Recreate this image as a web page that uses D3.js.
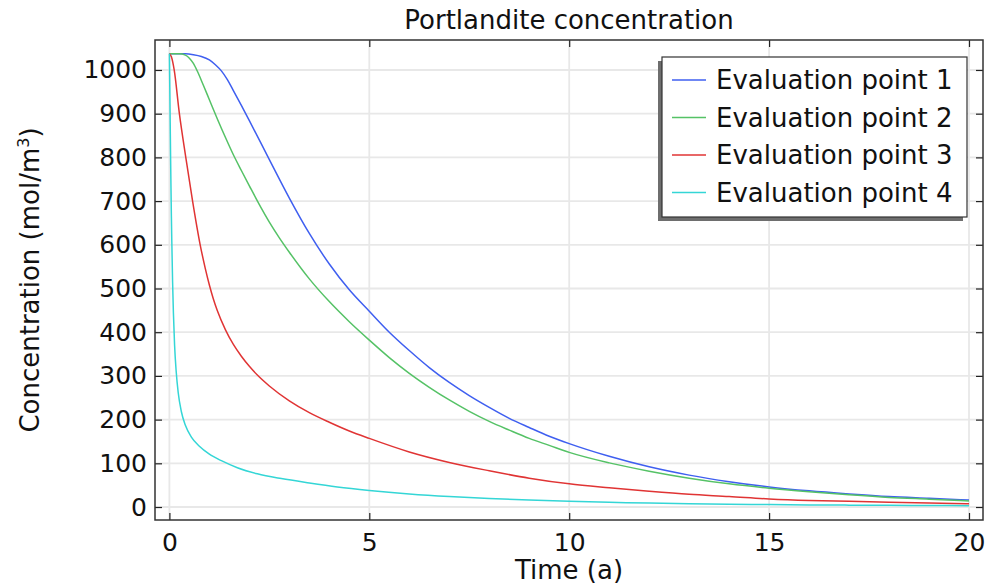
<!DOCTYPE html>
<html>
<head>
<meta charset="utf-8">
<script src="https://cdn.jsdelivr.net/npm/d3@7"></script>
<style>
  body { margin: 0; background: #fff; }
  text { font-family: "DejaVu Sans", sans-serif; fill: #111; }
</style>
</head>
<body>
<div id="main"></div>
<script>
// values (time in years, concentration in mol/m3)
const t1 = [0, 0.4, 0.6, 0.8, 1.0, 1.15, 1.3, 1.45, 1.6, 1.8, 2.0, 2.5, 3.0, 3.5, 4.0, 4.5, 5, 5.5, 6, 6.5, 7, 7.5, 8, 8.5, 9, 9.5, 10, 11, 12, 13, 14, 15, 16, 17, 18, 19, 20];
const v1 = [1037, 1037, 1035, 1031, 1023, 1012, 998, 978, 953, 919, 884, 795, 707, 626, 556, 497, 448, 400, 358, 319, 285, 255, 228, 203, 182, 162, 145, 116, 92, 73, 58, 46, 37, 30, 24, 20, 16];

const t2 = [0, 0.25, 0.4, 0.5, 0.6, 0.7, 0.85, 1.0, 1.2, 1.4, 1.6, 1.8, 2.0, 2.25, 2.5, 2.75, 3.0, 3.5, 4.0, 4.5, 5, 5.5, 6, 6.5, 7, 7.5, 8, 8.5, 9, 9.5, 10, 11, 12, 13, 14, 15, 16, 17, 18, 19, 20];
const v2 = [1037, 1037, 1034, 1027, 1015, 997, 965, 932, 888, 846, 806, 770, 735, 692, 652, 616, 583, 522, 470, 424, 382, 342, 306, 274, 245, 219, 196, 176, 157, 141, 125, 101, 82, 66, 53, 43, 35, 28, 22, 18, 14];

const t3 = [0, 0.05, 0.12, 0.25, 0.41, 0.58, 0.77, 0.9, 1.0, 1.1, 1.2, 1.4, 1.6, 1.8, 2.0, 2.2, 2.5, 3.0, 3.5, 4.0, 4.5, 5, 6, 7, 8, 9, 10, 11, 12, 13, 14, 15, 16, 17, 18, 19, 20];
const v3 = [1037, 1030, 1000, 900, 800, 700, 600, 545, 508, 476, 449, 406, 372, 345, 322, 302, 277, 243, 216, 194, 174, 157, 126, 102, 83, 66, 53, 44, 36, 29, 24, 18.5, 15, 13, 11, 9, 7.5];

const t4 = [0, 0.01, 0.02, 0.03, 0.04, 0.05, 0.06, 0.08, 0.1, 0.13, 0.17, 0.22, 0.3, 0.4, 0.55, 0.75, 1.0, 1.3, 1.7, 2.2, 2.8, 3.5, 4.2, 5, 6, 7, 8, 9, 10, 11, 12, 13, 14, 15, 16, 17, 18, 19, 20];
const v4 = [1037, 960, 880, 800, 730, 665, 610, 515, 445, 370, 310, 262, 218, 187, 160, 139, 121, 106, 90, 76, 65, 55, 46, 38, 30, 24, 19.5, 16, 13, 10.8, 9, 7.6, 6.5, 5.6, 4.9, 4.3, 3.8, 3.4, 3];

const seriesNames = ["Evaluation point 1", "Evaluation point 2", "Evaluation point 3", "Evaluation point 4"];
const seriesColors = ["#3f5ff0", "#55c266", "#e03434", "#34d6d6"];
const xTicks = [0, 5, 10, 15, 20];
const yTicks = [0, 100, 200, 300, 400, 500, 600, 700, 800, 900, 1000];

const W = 992, H = 588;
const margin = {left: 155, right: 9, top: 40, bottom: 68};
const pw = W - margin.left - margin.right;
const ph = H - margin.top - margin.bottom;

const svg = d3.select("#main").append("svg")
    .attr("width", W)
    .attr("height", H);

const x = d3.scaleLinear().domain([-0.36, 20.35]).range([0, pw]);
const y = d3.scaleLinear().domain([-29.7, 1068.6]).range([ph, 0]);

const g = svg.append("g").attr("transform", `translate(${margin.left},${margin.top})`);

// grid
g.append("g").selectAll("line").data(xTicks).enter().append("line")
    .attr("x1", d => x(d)).attr("x2", d => x(d))
    .attr("y1", 0).attr("y2", ph)
    .attr("stroke", "#e8e8e8").attr("stroke-width", 1.8);
g.append("g").selectAll("line").data(yTicks).enter().append("line")
    .attr("x1", 0).attr("x2", pw)
    .attr("y1", d => y(d)).attr("y2", d => y(d))
    .attr("stroke", "#e8e8e8").attr("stroke-width", 1.8);

// curves
g.append("clipPath").attr("id", "clip")
    .append("rect").attr("width", pw).attr("height", ph);

const line = d3.line()
    .x(d => x(d[0]))
    .y(d => y(d[1]))
    .curve(d3.curveMonotoneX);

const series = [[t1, v1], [t2, v2], [t3, v3], [t4, v4]].map(s => s[0].map((t, i) => [t, s[1][i]]));

g.append("g").attr("clip-path", "url(#clip)")
    .selectAll("path").data(series).enter().append("path")
    .attr("d", line)
    .attr("fill", "none")
    .attr("stroke", (d, i) => seriesColors[i])
    .attr("stroke-width", 1.5);

// axes, ticks pointing inward on all four sides
g.append("g").attr("transform", `translate(0,${ph})`)
    .call(d3.axisBottom(x).tickValues(xTicks).tickSize(-7).tickPadding(13));
g.append("g")
    .call(d3.axisLeft(y).tickValues(yTicks).tickSize(-7).tickPadding(8).tickFormat(d3.format("d")));
g.append("g")
    .call(d3.axisTop(x).tickValues(xTicks).tickSize(-7).tickFormat(""));
g.append("g").attr("transform", `translate(${pw},0)`)
    .call(d3.axisRight(y).tickValues(yTicks).tickSize(-7).tickFormat(""));

g.selectAll(".domain").remove();
g.selectAll(".tick line").attr("stroke", "#222").attr("stroke-width", 1.2);
g.selectAll(".tick text").style("font-size", "25px").style("font-family", "DejaVu Sans").attr("fill", "#111");

g.append("rect")
    .attr("width", pw).attr("height", ph)
    .attr("fill", "none").attr("stroke", "#333").attr("stroke-width", 1.5);

// title and labels
svg.append("text")
    .attr("x", margin.left + pw / 2).attr("y", 29)
    .attr("text-anchor", "middle")
    .style("font-size", "26px")
    .text("Portlandite concentration");

svg.append("text")
    .attr("x", margin.left + pw / 2).attr("y", 579)
    .attr("text-anchor", "middle")
    .style("font-size", "26px")
    .text("Time (a)");

const yl = svg.append("text")
    .attr("transform", `translate(39,${margin.top + ph / 2}) rotate(-90)`)
    .attr("text-anchor", "middle")
    .style("font-size", "26px");
yl.append("tspan").text("Concentration (mol/m");
yl.append("tspan").attr("dy", -10).style("font-size", "16px").text("3");
yl.append("tspan").attr("dy", 10).text(")");

// legend
const lg = svg.append("g").attr("transform", "translate(662,57)");
lg.append("rect")
    .attr("x", -4).attr("y", 4).attr("width", 305).attr("height", 160)
    .attr("fill", "#6e6e6e");
lg.append("rect")
    .attr("width", 305).attr("height", 160)
    .attr("fill", "#fff").attr("stroke", "#333").attr("stroke-width", 1.2);

const rows = lg.selectAll(".row").data(seriesNames).enter().append("g")
    .attr("transform", (d, i) => `translate(0,${23 + i * 37.5})`);
rows.append("line")
    .attr("x1", 10).attr("x2", 44)
    .attr("stroke", (d, i) => seriesColors[i]).attr("stroke-width", 1.5);
rows.append("text")
    .attr("x", 54).attr("dy", "0.36em")
    .style("font-size", "26px")
    .text(d => d);
</script>
</body>
</html>
